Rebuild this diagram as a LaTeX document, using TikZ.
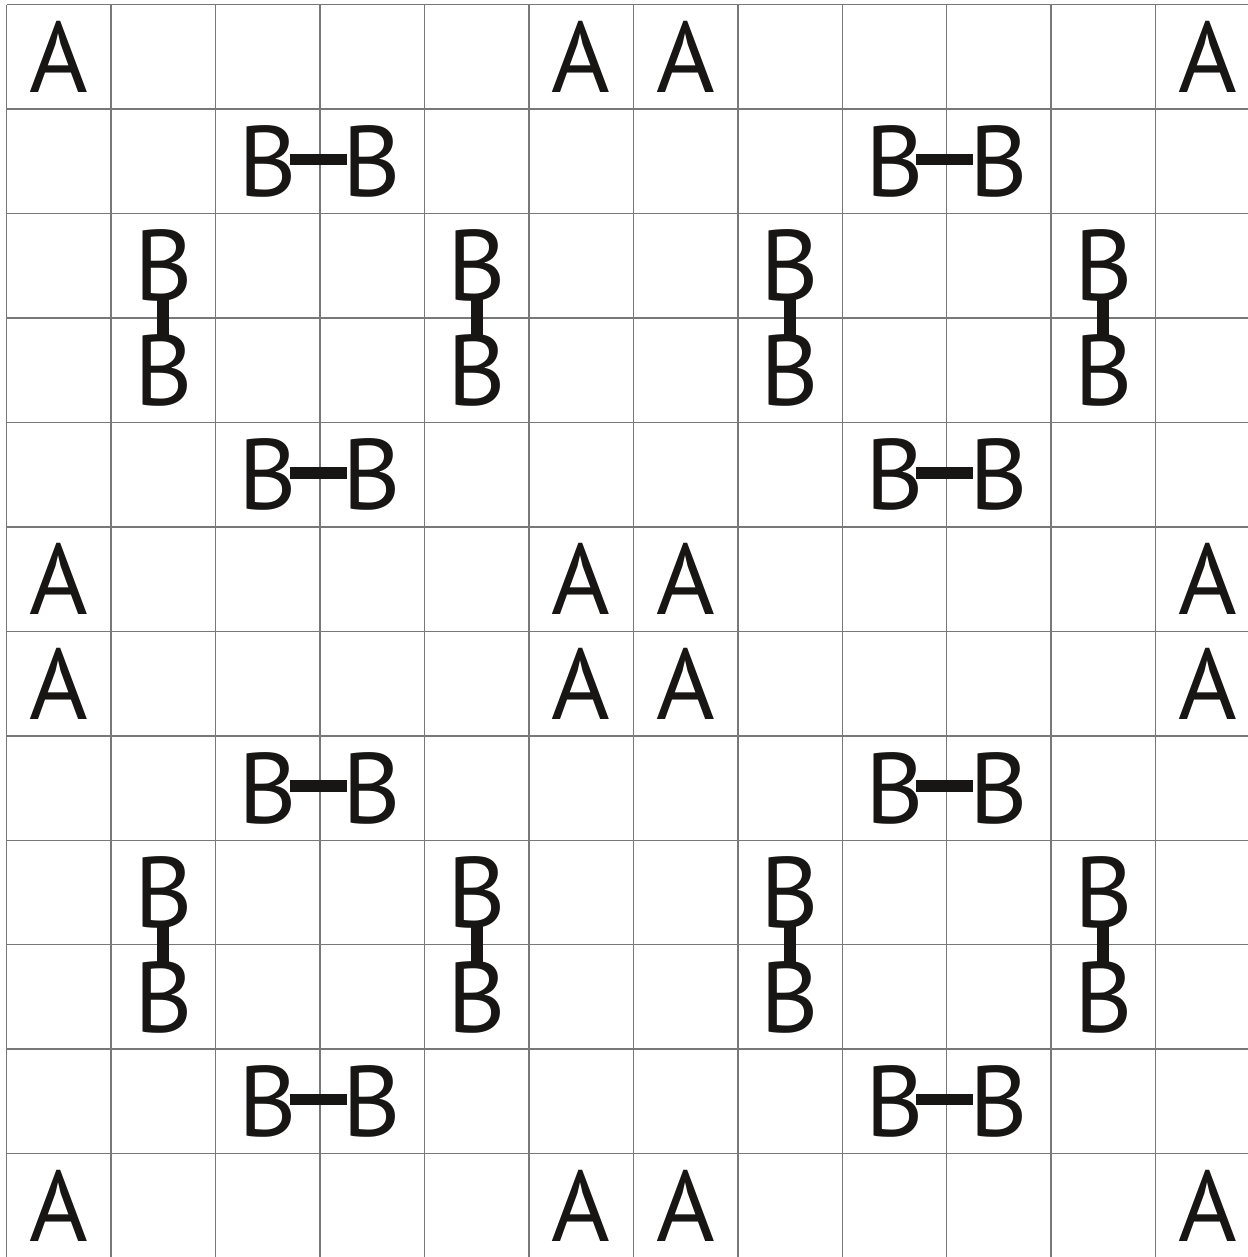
\documentclass[tikz,border=0pt]{standalone}
\usepackage{fontspec}
\setmainfont{PT Sans}
\definecolor{gridgray}{RGB}{120, 120, 120}
\definecolor{inkblack}{RGB}{24, 22, 20}
\usetikzlibrary{positioning}
\tikzset{
	cellgrid/.style={draw=gridgray, line width=0.4pt},
	letter/.style={inner sep=0pt, outer sep=0pt, text=inkblack, font=\fontsize{27.3}{30}\selectfont},
	link/.style={draw=inkblack, line width=3.2pt},
}

\begin{document}
\begin{tikzpicture}
		\useasboundingbox (-0.064,0.01) rectangle (11.88,12.045);
		\draw[cellgrid] (0,0) grid (12,12);
		% corner letters
		\foreach \r in {0,5,6,11} {
			\foreach \c in {0,5,6,11} {
				\node[letter] (a-\r-\c) at (\c+0.5,11.5-\r) {A};
			}
		}
		% horizontal pairs
		\foreach \r in {1,4,7,10} {
			\foreach \c in {2,8} {
				\node[letter] (bl-\r-\c) at (\c+0.5,11.5-\r) {B};
				\node[letter] (br-\r-\c) at (\c+1.5,11.5-\r) {B};
				\draw[link, shorten <=-2pt, shorten >=-1pt] ([yshift=0.5pt]bl-\r-\c.east) -- ([yshift=0.5pt]br-\r-\c.west);
			}
		}
		% vertical pairs
		\foreach \r in {2,8} {
			\foreach \c in {1,4,7,10} {
				\node[letter] (bt-\r-\c) at (\c+0.5,11.5-\r) {B};
				\node[letter] (bb-\r-\c) at (\c+0.5,10.5-\r) {B};
				\draw[link, shorten <=-1pt, shorten >=-1pt] (bt-\r-\c.south) -- (bb-\r-\c.north);
			}
		}
	\end{tikzpicture}
\end{document}
